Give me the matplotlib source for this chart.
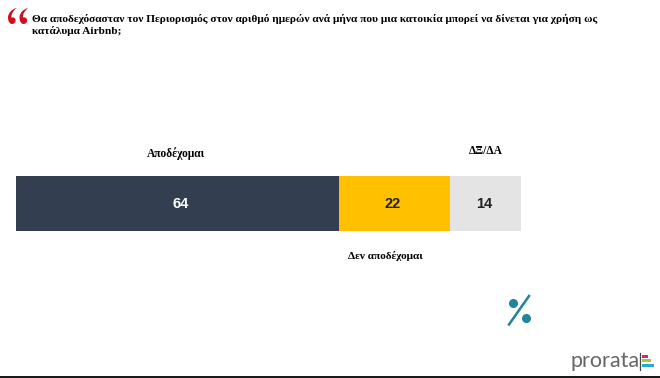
from matplotlib import pyplot as plt
from matplotlib.lines import Line2D
from matplotlib.patches import Rectangle, PathPatch
from matplotlib.path import Path

values = [64, 22, 14]
colors = ["#333f50", "#ffc000", "#e4e4e4"]
value_colors = ["white", "#222222", "#222222"]
title = ("Θα αποδεχόσασταν τον Περιορισμός στον αριθμό ημερών ανά μήνα που μια κατοικία μπορεί να δίνεται για χρήση ως\n"
         "κατάλυμα Airbnb;")
W, H = 660, 378


def fx(x):
    return x / W


def fy(y):
    return 1 - y / H


def quote_mark(x):
    # comma shaped mark, x is its left edge in pixels
    pts = [(8.6, 1), (4, 2), (0, 6), (0, 10.5), (0, 14), (1.5, 17), (4, 17),
           (6.5, 17), (7.6, 15), (7.6, 13.5), (7.6, 11), (5.5, 10), (3.5, 10.5),
           (3, 7), (5.5, 3.5), (8.6, 1)]
    codes = [Path.MOVETO] + [Path.CURVE4] * 15
    verts = [(fx(x + a), fy(7 + b)) for a, b in pts]
    return PathPatch(Path(verts, codes), transform=fig.transFigure, color="#cc1020", lw=0)


fig = plt.figure(figsize=(W / 100, H / 100), dpi=100)

# bar axes, pixel box of the stacked bar
ax = fig.add_axes([fx(16), fy(231), 505 / W, 55 / H])
left = 0
# the labels do not sit quite in the middle of their segments
label_shift = [0.7, -0.45, -0.2]
for v, c, tc, s in zip(values, colors, value_colors, label_shift):
    ax.barh(0, v, 1, left=left, color=c)
    ax.text(left + v / 2 + s, -0.01, str(v), ha="center", va="center", color=tc,
            fontsize=10.5, fontweight="bold", family="Liberation Sans")
    left += v
ax.set_xlim(0, 100)
ax.set_ylim(-0.5, 0.5)
ax.axis("off")

serif = dict(family="Liberation Serif", fontweight="bold", color="black")
fig.text(fx(32), fy(25), title, fontsize=8.2, ha="left", va="center",
         linespacing=1.2, **serif)
fig.text(fx(175.5), fy(153.5), "Αποδέχομαι", fontsize=8.3, ha="center", va="center", **serif)
fig.text(fx(486), fy(150.5), "ΔΞ/ΔΑ", fontsize=8.3, ha="center", va="center", **serif)
fig.text(fx(385.5), fy(256), "Δεν αποδέχομαι", fontsize=8.1, ha="center", va="center", **serif)

# red quote marks
fig.add_artist(quote_mark(8))
fig.add_artist(quote_mark(19.5))

# percent sign
teal = "#23829c"
fig.add_artist(Line2D([fx(509), fx(529)], [fy(324.5), fy(296)], color=teal, lw=1.8))
fig.add_artist(Line2D([fx(512.7)], [fy(302.7)], marker="o", ms=5.5, color=teal))
fig.add_artist(Line2D([fx(526)], [fy(318)], marker="o", ms=5.5, color=teal))

# logo
fig.text(fx(570), fy(361), "prorata", fontsize=15.5, color="#666666", ha="left", va="center",
         family="Lato")
fig.add_artist(Line2D([fx(639.7), fx(639.7)], [fy(353), fy(370)], color="#444444", lw=0.9))
for x0, x1, y, c in [(642, 648, 356.5, "#d6247f"), (642, 651, 360.5, "#a8c83c"), (642, 654, 365, "#2aa6d8")]:
    fig.add_artist(Rectangle((fx(x0), fy(y + 1.5)), (x1 - x0) / W, 3 / H,
                             transform=fig.transFigure, color=c, lw=0))

# dark strip on the bottom edge
fig.add_artist(Rectangle((0, 0), 1, 2.5 / H, transform=fig.transFigure, color="#1a1a1a", lw=0))

fig.savefig("out.png", dpi=100)
